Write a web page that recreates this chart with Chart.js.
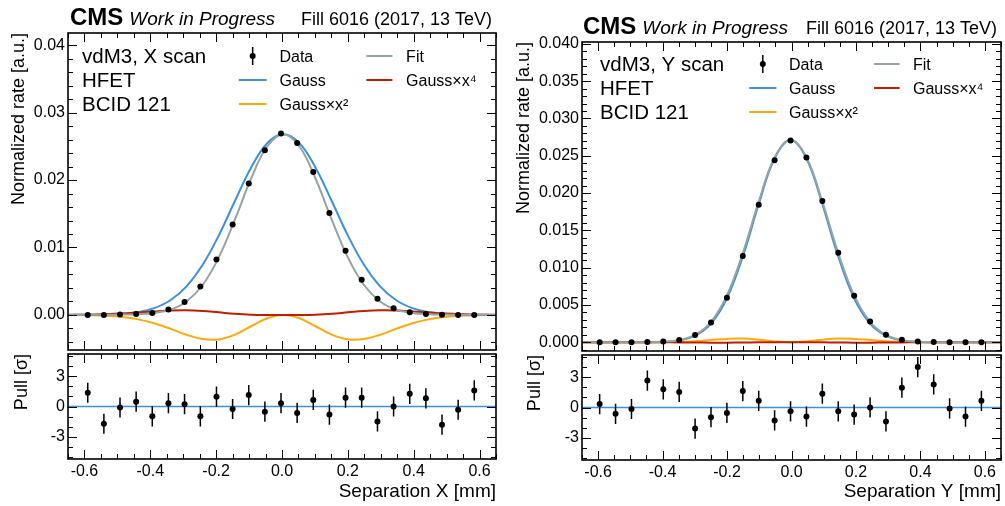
<!DOCTYPE html>
<html>
<head>
<meta charset="utf-8">
<script src="https://cdn.jsdelivr.net/npm/chart.js@4.4.1/dist/chart.umd.min.js"></script>
<style>
  body { margin: 0; background: #fff; }
  #wrap { position: relative; width: 1005px; height: 506px; overflow: hidden; }
  canvas { position: absolute; }
</style>
</head>
<body>
<div id="wrap">
  <canvas id="mainX" width="500" height="354" style="left:0;top:0"></canvas>
  <canvas id="pullX" width="500" height="156" style="left:0;top:350px"></canvas>
  <canvas id="mainY" width="505" height="355" style="left:500px;top:0"></canvas>
  <canvas id="pullY" width="505" height="155" style="left:500px;top:351px"></canvas>
</div>
<script>
// ---- X scan ----
const sepX = [-0.590, -0.541, -0.492, -0.443, -0.394, -0.345, -0.296, -0.248, -0.199, -0.150, -0.101, -0.052, -0.003,
  0.046, 0.095, 0.144, 0.193, 0.242, 0.290, 0.339, 0.388, 0.437, 0.486, 0.535, 0.584];
const rateX = [0.0000, 0.0000, 0.00005, 0.00015, 0.0003, 0.0008, 0.0019, 0.0042, 0.0082, 0.0134, 0.0195, 0.0244, 0.0269,
  0.0255, 0.0212, 0.0151, 0.0095, 0.0052, 0.0024, 0.0010, 0.0004, 0.00015, 0.00003, 0.0000, 0.0000];
const pullXv = [1.36, -1.71, -0.1, 0.48, -0.97, 0.33, 0.23, -0.97, 0.97, -0.25, 1.13, -0.51, 0.33,
  -0.64, 0.65, -0.8, 0.87, 0.87, -1.48, 0.0, 1.26, 0.81, -1.8, -0.32, 1.59];
const curveXx = [-0.65, -0.584, -0.535, -0.486, -0.437, -0.388, -0.339, -0.290, -0.241, -0.192, -0.143, -0.094, -0.045, 0.004,
  0.053, 0.102, 0.151, 0.200, 0.249, 0.298, 0.347, 0.396, 0.445, 0.494, 0.543, 0.592, 0.65];
const fitX = [0, 0.00001, 0.00002, 0.00005, 0.00011, 0.00029, 0.00078, 0.002, 0.00444, 0.00854, 0.01413, 0.02019, 0.02497, 0.0268,
  0.02497, 0.02019, 0.01413, 0.00854, 0.00444, 0.002, 0.00078, 0.00029, 0.00011, 0.00005, 0.00002, 0.00001, 0];
const gaussX = [0, 0.00002, 0.00005, 0.00016, 0.00042, 0.00101, 0.00217, 0.00423, 0.00743, 0.01179, 0.01689, 0.02183, 0.02546, 0.0268,
  0.02546, 0.02183, 0.01689, 0.01179, 0.00743, 0.00423, 0.00217, 0.00101, 0.00042, 0.00016, 0.00005, 0.00002, 0];
const gx2X = [-0.00001, -0.00005, -0.00013, -0.00031, -0.00066, -0.00124, -0.00205, -0.00293, -0.00358, -0.00363, -0.00293, -0.00168, -0.00049, 0,
  -0.00049, -0.00168, -0.00293, -0.00363, -0.00358, -0.00293, -0.00205, -0.00124, -0.00066, -0.00031, -0.00013, -0.00005, -0.00001];
const gx4X = [0.00001, 0.00004, 0.0001, 0.0002, 0.00035, 0.00052, 0.00066, 0.0007, 0.00059, 0.00038, 0.00017, 0.00004, 0, 0,
  0, 0.00004, 0.00017, 0.00038, 0.00059, 0.0007, 0.00066, 0.00052, 0.00035, 0.0002, 0.0001, 0.00004, 0.00001];

// ---- Y scan ----
const sepY = [-0.5952, -0.5459, -0.4965, -0.4472, -0.3978, -0.3485, -0.2991, -0.2498, -0.2004, -0.1511, -0.1017, -0.0524, -0.003,
  0.0464, 0.0957, 0.1451, 0.1944, 0.2438, 0.2931, 0.3425, 0.3918, 0.4412, 0.4905, 0.5399, 0.5892];
const rateY = [0, 0, 0, 0.00005, 0.0001, 0.0003, 0.00096, 0.00265, 0.00598, 0.01157, 0.01845, 0.0244, 0.02706,
  0.02476, 0.01894, 0.01201, 0.00624, 0.00278, 0.001, 0.00033, 0.00012, 0.00005, 0, 0, 0];
const pullYv = [0.34, -0.63, -0.15, 2.67, 1.8, 1.54, -2.09, -0.96, -0.54, 1.63, 0.66, -1.28, -0.38,
  -0.9, 1.37, -0.38, -0.7, 0.01, -1.38, 1.96, 4.0, 2.29, -0.09, -0.9, 0.66];
const curveYx = [-0.65, -0.5952, -0.5459, -0.4965, -0.4472, -0.3978, -0.3485, -0.2991, -0.2498, -0.2004, -0.1511, -0.1017, -0.0524, -0.003,
  0.0464, 0.0957, 0.1451, 0.1944, 0.2438, 0.2931, 0.3425, 0.3918, 0.4412, 0.4905, 0.5399, 0.5892, 0.65];
const fitY = [0, 0, 0, 0.000002, 0.000014, 0.00007, 0.00029, 0.00099, 0.00275, 0.00629, 0.01195, 0.01885, 0.02476, 0.0271,
  0.02476, 0.01885, 0.01195, 0.00629, 0.00275, 0.00099, 0.00029, 0.00007, 0.000014, 0.000002, 0, 0, 0];
const gaussY = [0, 0, 0, 0.000002, 0.000012, 0.00006, 0.00025, 0.00088, 0.0025, 0.00589, 0.01149, 0.01851, 0.02464, 0.0271,
  0.02464, 0.01851, 0.01149, 0.00589, 0.0025, 0.00088, 0.00025, 0.00006, 0.000012, 0.000002, 0, 0, 0];
const gx2Y = [0, 0, 0, 0.000001, 0.000005, 0.000019, 0.000059, 0.000151, 0.000299, 0.000451, 0.000494, 0.000354, 0.000118, 0,
  0.000118, 0.000354, 0.000494, 0.000451, 0.000299, 0.000151, 0.000059, 0.000019, 0.000005, 0.000001, 0, 0, 0];
const gx4Y = [0, 0, 0, 0, -0.000003, -0.000008, -0.00002, -0.000037, -0.00005, -0.00005, -0.00003, -0.00001, -0.000001, 0,
  -0.000001, -0.00001, -0.00003, -0.00005, -0.00005, -0.000037, -0.00002, -0.000008, -0.000003, 0, 0, 0, 0];

// ticks
const xTicks = [-0.6, -0.4, -0.2, 0.0, 0.2, 0.4, 0.6];
const rateTicksX = [0.00, 0.01, 0.02, 0.03, 0.04];
const rateTicksY = [0.000, 0.005, 0.010, 0.015, 0.020, 0.025, 0.030, 0.035, 0.040];
const pullTicks = [-3, 0, 3];
const pullErr = 1;

const FONT = "'Liberation Sans', Arial, Helvetica, sans-serif";
const colGauss = '#3f90da', colX2 = '#ffa90e', colX4 = '#bd1f01', colFit = '#94a4a2';

function steps(from, to, step) {
  const out = [];
  for (let v = from; v <= to + step / 2; v += step) out.push(Math.round(v * 1e6) / 1e6);
  return out;
}

const framePlugin = {
  id: 'cmsFrame',
  afterDatasetsDraw(chart, args, opts) {
    const { ctx, chartArea: a } = chart;
    const xs = chart.scales.x, ys = chart.scales.y;
    ctx.save();
    ctx.strokeStyle = '#000';
    ctx.lineWidth = 1;
    ctx.beginPath();
    const xt = (vals, len) => vals.forEach(v => {
      const p = Math.round(xs.getPixelForValue(v)) + 0.5;
      ctx.moveTo(p, a.bottom); ctx.lineTo(p, a.bottom - len);
      ctx.moveTo(p, a.top); ctx.lineTo(p, a.top + len);
    });
    const yt = (vals, len) => vals.forEach(v => {
      const p = Math.round(ys.getPixelForValue(v)) + 0.5;
      ctx.moveTo(a.left, p); ctx.lineTo(a.left + len, p);
      ctx.moveTo(a.right, p); ctx.lineTo(a.right - len, p);
    });
    xt(opts.xMinor, 5); xt(xTicks, 9);
    yt(opts.yMinor, 5); yt(opts.yMajor, 9);
    ctx.stroke();
    ctx.lineWidth = 1.6;
    ctx.strokeRect(a.left, a.top, a.right - a.left, a.bottom - a.top);
    ctx.restore();
  }
};

const errPlugin = {
  id: 'pullErr',
  afterDatasetsDraw(chart, args, opts) {
    if (!opts.values) return;
    const ctx = chart.ctx, ys = chart.scales.y;
    const pts = chart.getDatasetMeta(0).data;
    ctx.save();
    ctx.strokeStyle = '#000';
    ctx.lineWidth = 1.5;
    ctx.beginPath();
    pts.forEach((pt, i) => {
      ctx.moveTo(pt.x, ys.getPixelForValue(opts.values[i] - pullErr));
      ctx.lineTo(pt.x, ys.getPixelForValue(opts.values[i] + pullErr));
    });
    ctx.stroke();
    ctx.restore();
  }
};

const textPlugin = {
  id: 'cmsText',
  afterDraw(chart, args, opts) {
    if (!opts.info) return;
    const { ctx, chartArea: a } = chart;
    const w = a.right - a.left;
    ctx.save();
    ctx.fillStyle = '#000';
    ctx.textBaseline = 'alphabetic';
    // header
    ctx.textAlign = 'left';
    ctx.font = 'bold 24px ' + FONT;
    const cx = a.left + opts.cmsDx;
    ctx.fillText('CMS', cx, a.top - 8);
    const cw = ctx.measureText('CMS').width;
    ctx.font = 'italic 19px ' + FONT;
    ctx.fillText('Work in Progress', cx + cw + 6, a.top - 8);
    ctx.textAlign = 'right';
    ctx.font = '18px ' + FONT;
    ctx.fillText('Fill 6016 (2017, 13 TeV)', a.right - 4, a.top - 8);
    // info block
    ctx.textAlign = 'left';
    ctx.font = '20.5px ' + FONT;
    opts.info.forEach((t, i) => ctx.fillText(t, a.left + opts.infoDx, a.top + opts.infoDy + 24 * i));
    // legend
    ctx.font = '16px ' + FONT;
    const cols = [[0.399, 0.464, 0.494], [0.697, 0.758, 0.790]];
    const entries = [
      { t: 'Data', c: 0, r: 0, data: true },
      { t: 'Gauss', c: 0, r: 1, col: colGauss },
      { t: 'Gauss\u00d7x\u00b2', c: 0, r: 2, col: colX2 },
      { t: 'Fit', c: 1, r: 0, col: colFit },
      { t: 'Gauss\u00d7x\u2074', c: 1, r: 1, col: colX4 }
    ];
    entries.forEach(e => {
      const [l0, l1, tx] = cols[e.c];
      const y = a.top + opts.legDy + 24 * e.r;
      if (e.data) {
        const mx = a.left + (l0 + l1) / 2 * w;
        ctx.strokeStyle = '#000'; ctx.lineWidth = 1.5;
        ctx.beginPath(); ctx.moveTo(mx, y - 9); ctx.lineTo(mx, y + 9); ctx.stroke();
        ctx.beginPath(); ctx.arc(mx, y, 3, 0, Math.PI * 2); ctx.fill();
      } else {
        ctx.strokeStyle = e.col; ctx.lineWidth = 2;
        ctx.beginPath(); ctx.moveTo(a.left + l0 * w, y); ctx.lineTo(a.left + l1 * w, y); ctx.stroke();
      }
      ctx.fillText(e.t, a.left + tx * w, y + 6);
    });
    ctx.restore();
  }
};

function curve(label, xs, ys, color) {
  return {
    label, data: xs.map((x, i) => ({ x, y: ys[i] })),
    showLine: true, borderColor: color, borderWidth: 2, pointRadius: 0,
    tension: 0.4, fill: false
  };
}

function yAxis(p, min, max, ticks, fmt, title, titlePad) {
  return {
    type: 'linear', position: 'left', min, max,
    grid: { display: false, drawTicks: false }, border: { display: false },
    ticks: { font: { size: 16, family: FONT }, color: '#000', padding: 3, callback: v => fmt(v) },
    title: { display: true, text: title, align: 'end', color: '#000', font: { size: 18, family: FONT }, padding: { top: titlePad, bottom: 0 } },
    afterBuildTicks: s => { s.ticks = ticks.map(v => ({ value: v })); },
    afterFit: s => { s.width = p.axisW; s.paddingTop = 0; s.paddingBottom = 0; }
  };
}

function makePanel(p) {
  new Chart(document.getElementById(p.mainId), {
    type: 'scatter',
    data: {
      datasets: [
        { label: 'Data', data: p.sep.map((x, i) => ({ x, y: p.rate[i] })), pointRadius: 3, pointBackgroundColor: '#000', pointBorderWidth: 0 },
        curve('Fit', p.cx, p.fit, colFit),
        curve('Gauss\u00d7x\u2074', p.cx, p.gx4, colX4),
        curve('Gauss\u00d7x\u00b2', p.cx, p.gx2, colX2),
        curve('Gauss', p.cx, p.gauss, colGauss)
      ]
    },
    options: {
      responsive: false, animation: false, events: [],
      layout: { padding: p.mainPad },
      plugins: {
        legend: { display: false }, tooltip: { enabled: false },
        cmsFrame: { xMinor: steps(-0.65, 0.65, 0.05), yMajor: p.rateTicks, yMinor: p.rateMinor },
        cmsText: { info: p.info, cmsDx: p.cmsDx, infoDx: p.infoDx, infoDy: p.infoDy, legDy: p.legDy }
      },
      scales: {
        x: { type: 'linear', min: -0.65, max: 0.65, display: false },
        y: yAxis(p, p.yMin, p.yMax, p.rateTicks, p.fmt, 'Normalized rate [a.u.]', p.titlePad)
      }
    },
    plugins: [framePlugin, errPlugin, textPlugin]
  });

  new Chart(document.getElementById(p.pullId), {
    type: 'scatter',
    data: {
      datasets: [
        { label: 'Pull', data: p.sep.map((x, i) => ({ x, y: p.pull[i] })), pointRadius: 3, pointBackgroundColor: '#000', pointBorderWidth: 0 },
        { label: 'zero', data: [{ x: -0.65, y: 0 }, { x: 0.65, y: 0 }], showLine: true, borderColor: colGauss, borderWidth: 1.5, pointRadius: 0 }
      ]
    },
    options: {
      responsive: false, animation: false, events: [],
      layout: { padding: p.pullPad },
      plugins: {
        legend: { display: false }, tooltip: { enabled: false },
        cmsFrame: { xMinor: steps(-0.65, 0.65, 0.05), yMajor: pullTicks, yMinor: steps(-5, 5, 1) },
        pullErr: { values: p.pull }
      },
      scales: {
        x: {
          type: 'linear', min: -0.65, max: 0.65, position: 'bottom',
          grid: { display: false, drawTicks: false }, border: { display: false },
          ticks: { font: { size: 16, family: FONT }, color: '#000', padding: 3, maxRotation: 0, autoSkip: false, callback: v => v.toFixed(1) },
          title: { display: true, text: p.xTitle, align: 'end', color: '#000', font: { size: 19, family: FONT }, padding: { top: 0, bottom: 3 } },
          afterBuildTicks: s => { s.ticks = xTicks.map(v => ({ value: v })); },
          afterFit: s => { s.height = p.xH; s.paddingLeft = 0; s.paddingRight = 0; }
        },
        y: yAxis(p, -5.2, 5.2, pullTicks, v => String(v), 'Pull [\u03c3]', p.pullTitlePad)
      }
    },
    plugins: [framePlugin, errPlugin]
  });
}

makePanel({
  mainId: 'mainX', pullId: 'pullX', sep: sepX, rate: rateX, pull: pullXv,
  cx: curveXx, fit: fitX, gauss: gaussX, gx2: gx2X, gx4: gx4X,
  yMin: -0.0052, yMax: 0.0418, rateTicks: rateTicksX, rateMinor: steps(-0.004, 0.040, 0.002), fmt: v => v.toFixed(2),
  axisW: 68, titlePad: 8, pullTitlePad: 11, xH: 47,
  mainPad: { top: 33, right: 3, bottom: 2, left: 0 }, pullPad: { top: 2, right: 3, bottom: 0, left: 0 },
  info: ['vdM3, X scan', 'HFET', 'BCID 121'], cmsDx: 2, infoDx: 14, infoDy: 30, legDy: 23,
  xTitle: 'Separation X [mm]'
});

makePanel({
  mainId: 'mainY', pullId: 'pullY', sep: sepY, rate: rateY, pull: pullYv,
  cx: curveYx, fit: fitY, gauss: gaussY, gx2: gx2Y, gx4: gx4Y,
  yMin: -0.00117, yMax: 0.04025, rateTicks: rateTicksY, rateMinor: steps(-0.001, 0.040, 0.001), fmt: v => v.toFixed(3),
  axisW: 82, titlePad: 13, pullTitlePad: 24, xH: 46,
  mainPad: { top: 42, right: 2, bottom: 2, left: 0 }, pullPad: { top: 2, right: 2, bottom: 0, left: 0 },
  info: ['vdM3, Y scan', 'HFET', 'BCID 121'], cmsDx: 1, infoDx: 18, infoDy: 29, legDy: 22,
  xTitle: 'Separation Y [mm]'
});
</script>
</body>
</html>
